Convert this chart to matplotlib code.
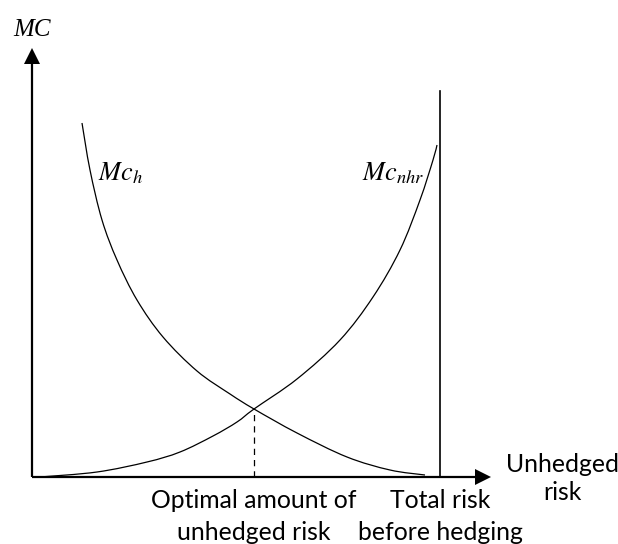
import numpy as np
import matplotlib.pyplot as plt
from matplotlib.path import Path
from matplotlib.patches import PathPatch

plt.switch_backend('agg')  # no display

# points (x: risk left unhedged, y: marginal cost)
mch_x = [50, 58, 70, 85, 105, 131, 165, 198, 222, 265, 315, 358, 393]
mch_y = [354, 307, 257, 217, 177, 140, 106, 83, 68, 44, 20, 7, 2]
mcnhr_x = [8, 65, 115, 148, 181, 205, 222, 265, 308, 341, 368, 388, 401, 405]
mcnhr_y = [0, 5, 15, 25, 41, 55, 68, 98, 137, 180, 227, 277, 317, 332]
optimal_x = 222
optimal_y = 68
total_risk = 408
total_top = 386
x_axis_end = 459
y_axis_end = 429


def smooth_path(xs, ys):
    # catmull-rom through the read points, drawn as cubic bezier segments
    p = np.column_stack([xs, ys]).astype(float)
    verts = [p[0]]
    codes = [Path.MOVETO]
    for i in range(len(p) - 1):
        p0 = p[i - 1] if i > 0 else p[i]
        p3 = p[i + 2] if i + 2 < len(p) else p[i + 1]
        c1 = p[i] + (p[i + 1] - p0) / 6.0
        c2 = p[i + 1] - (p3 - p[i]) / 6.0
        verts += [c1, c2, p[i + 1]]
        codes += [Path.CURVE4] * 3
    return Path(verts, codes)


plt.rcParams['mathtext.fontset'] = 'stix'

fig = plt.figure(figsize=(6.18, 5.44), dpi=100)
ax = fig.add_axes([0, 0, 1, 1])
ax.set_xlim(-32, 586)
ax.set_ylim(-67, 477)
ax.axis('off')

# axes with arrow heads
ax.plot([0, x_axis_end - 15], [0, 0], color='black', lw=1.6, solid_capstyle='butt')
ax.plot([0, 0], [0, y_axis_end - 15], color='black', lw=1.6, solid_capstyle='butt')
ax.fill([x_axis_end - 16, x_axis_end, x_axis_end - 16], [8, 0, -8], color='black', lw=0)
ax.fill([-8, 0, 8], [y_axis_end - 16, y_axis_end, y_axis_end - 16], color='black', lw=0)

# curves
ax.add_patch(PathPatch(smooth_path(mch_x, mch_y), fill=False, edgecolor='black', lw=0.9))
ax.add_patch(PathPatch(smooth_path(mcnhr_x, mcnhr_y), fill=False, edgecolor='black', lw=0.9))
ax.plot([total_risk, total_risk], [0, total_top], color='black', lw=1.2)
ax.plot([optimal_x, optimal_x], [0, optimal_y], color='black', lw=0.9,
        linestyle=(0, (5, 4)))

# labels
ax.text(0, 447, 'MC', fontsize=18, family='Liberation Serif', style='italic',
        ha='center', va='center')
ax.text(66, 297, r'$Mc_h$', fontsize=19, ha='left', va='baseline')
ax.text(330, 297, r'$Mc_{nhr}$', fontsize=19, ha='left', va='baseline')

fs = 17.8
fam = 'Lato'
ax.text(optimal_x, -23, 'Optimal amount of', fontsize=fs, family=fam, ha='center', va='center')
ax.text(optimal_x, -55, 'unhedged risk', fontsize=fs, family=fam, ha='center', va='center')
ax.text(total_risk, -23, 'Total risk', fontsize=fs, family=fam, ha='center', va='center')
ax.text(total_risk, -55, 'before hedging', fontsize=fs, family=fam, ha='center', va='center')
ax.text(530, 12, 'Unhedged', fontsize=fs, family=fam, ha='center', va='center')
ax.text(530, -16, 'risk', fontsize=fs, family=fam, ha='center', va='center')

plt.savefig('out.png', dpi=100)
